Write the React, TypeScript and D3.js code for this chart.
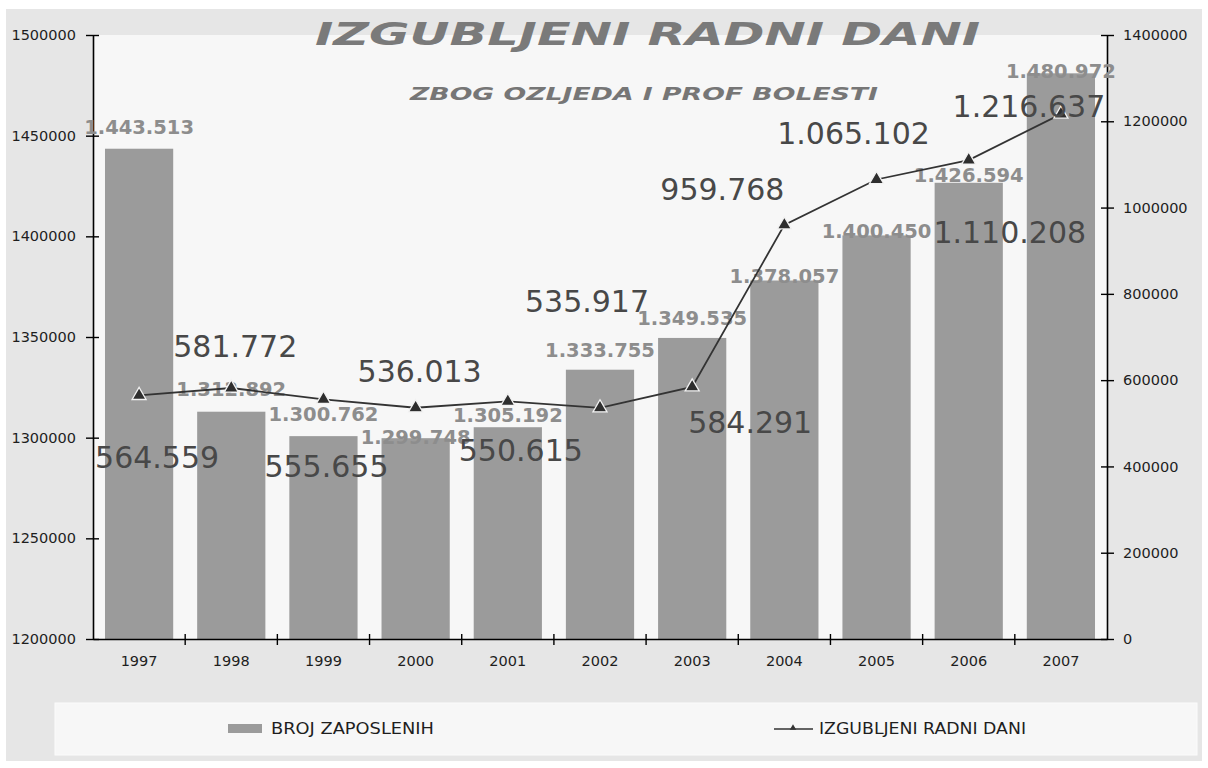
import React, { useRef, useEffect } from "react";
import * as d3 from "d3";

// data
const years = ["1997", "1998", "1999", "2000", "2001", "2002", "2003", "2004", "2005", "2006", "2007"];
const employees = [1443513, 1312892, 1300762, 1299748, 1305192, 1333755, 1349535, 1378057, 1400450, 1426594, 1480972];
const lostDays = [564559, 581772, 555655, 536013, 550615, 535917, 584291, 959768, 1065102, 1110208, 1216637];
const leftTicks = [1200000, 1250000, 1300000, 1350000, 1400000, 1450000, 1500000];
const rightTicks = [0, 200000, 400000, 600000, 800000, 1000000, 1200000, 1400000];

// hand-placed label offsets (as in the original chart)
const barLabelDy = [-15, -16, -15, 6, -5, -13, -13, 2, 3, -1, 5];
const lineLabelOffset: [number, number][] = [
  [18, 73], [4, -31], [3, 78], [4, -26], [13, 60], [-13, -96],
  [58, 46], [-62, -25], [-23, -35], [41, 83], [-32, 3],
];

const W = 1208, H = 768;
const left = 93, right = 1107, top = 35, bottom = 639;
const FONT = "'DejaVu Sans', Verdana, sans-serif";

const fmt = d3.formatLocale({ decimal: ",", thousands: ".", grouping: [3], currency: ["", ""] }).format(",d");

const App = () => {
  const axesRef = useRef<SVGGElement>(null);

  const x = d3.scaleBand<string>().domain(years).range([left, right]).paddingInner(0.26).paddingOuter(0.13);
  const yLeft = d3.scaleLinear().domain([1200000, 1500000]).range([bottom, top]);
  const yRight = d3.scaleLinear().domain([0, 1400000]).range([bottom, top]);
  const cx = (i: number) => (x(years[i]) as number) + x.bandwidth() / 2;

  const line = d3
    .line<number>()
    .x((_, i) => cx(i))
    .y((d) => yRight(d));

  const tri = d3.symbol().type(d3.symbolTriangle).size(85)() as string;
  const triSmall = d3.symbol().type(d3.symbolTriangle).size(18)() as string;

  const gap = (x.step() - x.bandwidth()) / 2;
  const boundaries = years.slice(1).map((y) => (x(y) as number) - gap);

  useEffect(() => {
    if (!axesRef.current) return;
    const g = d3.select(axesRef.current);
    g.selectAll("*").remove();

    const style = (sel: any) => {
      sel.select(".domain").attr("stroke", "#000").attr("stroke-width", 1.6);
      sel.selectAll(".tick line").attr("stroke", "#000").attr("stroke-width", 1.4);
      sel
        .selectAll(".tick text")
        .attr("fill", "#1e1e1e")
        .style("font-family", FONT)
        .style("font-size", "14.5px");
    };

    g.append("g")
      .attr("transform", `translate(${left},0)`)
      .call(d3.axisLeft(yLeft).tickValues(leftTicks).tickSizeInner(7).tickSizeOuter(0).tickPadding(10).tickFormat(d3.format("d")))
      .call(style)
      .call((s) => s.selectAll(".tick line").attr("x1", 6));

    g.append("g")
      .attr("transform", `translate(${right},0)`)
      .call(d3.axisRight(yRight).tickValues(rightTicks).tickSizeInner(7).tickSizeOuter(0).tickPadding(9).tickFormat(d3.format("d")))
      .call(style)
      .call((s) => s.selectAll(".tick line").attr("x1", -6));

    g.append("g")
      .attr("transform", `translate(0,${bottom})`)
      .call(d3.axisBottom(x).tickSize(0).tickPadding(17))
      .call(style);
  }, []);

  return (
    <svg width={W} height={H} style={{ position: "absolute", left: 0, top: 0, background: "#fff" }}>
      <rect x={6} y={9} width={1196} height={752} fill="#e6e6e6" />
      <rect x={left} y={top} width={right - left} height={bottom - top} fill="#f7f7f7" />

      {/* bars */}
      {employees.map((v, i) => (
        <rect
          key={years[i]}
          x={x(years[i])}
          y={yLeft(v)}
          width={x.bandwidth()}
          height={bottom - yLeft(v)}
          fill="#9b9b9b"
        />
      ))}

      {/* category separator ticks on x axis */}
      {boundaries.map((b, i) => (
        <line key={i} x1={b} x2={b} y1={bottom - 5} y2={bottom + 6} stroke="#000" strokeWidth={1.4} />
      ))}

      <g ref={axesRef} />

      {/* bar labels */}
      {employees.map((v, i) => (
        <text
          key={"bl" + i}
          x={cx(i)}
          y={yLeft(v) + barLabelDy[i]}
          textAnchor="middle"
          fill="#8d8d8d"
          fontFamily={FONT}
          fontWeight="bold"
          fontSize={19.5}
        >
          {fmt(v)}
        </text>
      ))}

      {/* line series */}
      <path d={line(lostDays) || ""} fill="none" stroke="#333" strokeWidth={1.8} />
      {lostDays.map((v, i) => (
        <path
          key={"m" + i}
          d={tri}
          transform={`translate(${cx(i)},${yRight(v)})`}
          fill="#2e2e2e"
          stroke="#f2f2f2"
          strokeWidth={1.3}
        />
      ))}

      {/* line labels */}
      {lostDays.map((v, i) => (
        <text
          key={"ll" + i}
          x={cx(i) + lineLabelOffset[i][0]}
          y={yRight(v) + lineLabelOffset[i][1]}
          textAnchor="middle"
          fill="#484848"
          fontFamily={FONT}
          fontSize={30}
        >
          {fmt(v)}
        </text>
      ))}

      {/* titles */}
      <text
        x={315}
        y={45}
        textLength={665}
        lengthAdjust="spacingAndGlyphs"
        fill="#7a7a7a"
        fontFamily={FONT}
        fontWeight="bold"
        fontStyle="italic"
        fontSize={32}
      >
        IZGUBLJENI RADNI DANI
      </text>
      <text
        x={410}
        y={100}
        textLength={468}
        lengthAdjust="spacingAndGlyphs"
        fill="#767676"
        fontFamily={FONT}
        fontWeight="bold"
        fontStyle="italic"
        fontSize={17.5}
      >
        ZBOG OZLJEDA I PROF BOLESTI
      </text>

      {/* legend */}
      <rect x={55} y={703} width={1142} height={52} fill="#f7f7f7" stroke="#fbfbfb" />
      <rect x={228} y={724} width={34} height={9} fill="#9b9b9b" />
      <text x={271} y={734} textLength={163} lengthAdjust="spacingAndGlyphs" fill="#1e1e1e" fontFamily={FONT} fontSize={15}>
        BROJ ZAPOSLENIH
      </text>
      <line x1={774} x2={813} y1={729} y2={729} stroke="#333" strokeWidth={1.5} />
      <path d={triSmall} transform="translate(793,728)" fill="#333" />
      <text x={819} y={734} textLength={207} lengthAdjust="spacingAndGlyphs" fill="#1e1e1e" fontFamily={FONT} fontSize={15}>
        IZGUBLJENI RADNI DANI
      </text>
    </svg>
  );
};

export default App;
